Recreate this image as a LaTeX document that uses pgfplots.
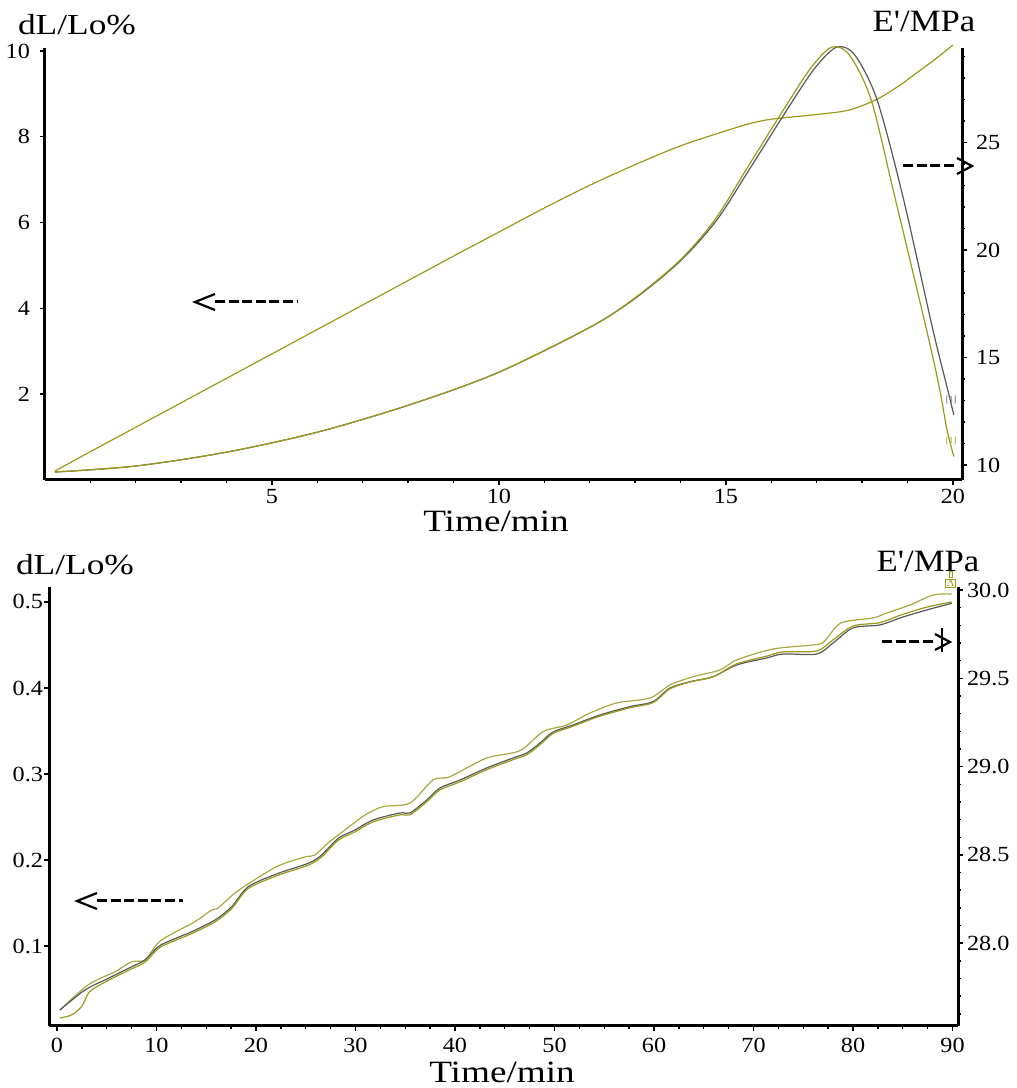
\documentclass[border=0pt]{standalone}
\usepackage{pgfplots}
\pgfplotsset{compat=1.18}
\usepackage{fontspec}
\setmainfont{Liberation Serif}
\newfontfamily\tickfont[FakeStretch=1.12]{Liberation Serif}
\newfontfamily\dlfont[FakeStretch=1.22]{Liberation Serif}
\newfontfamily\efont[FakeStretch=1.12]{Liberation Serif}
\newfontfamily\tfont[FakeStretch=1.2]{Liberation Serif}
\definecolor{olv}{HTML}{9A9A18}
\definecolor{olvl}{HTML}{A8A840}
\definecolor{gry}{HTML}{585858}

\pgfplotstableread{
x y
0.22 0.21
1 0.66
2 1.23
3 1.80
4 2.37
5 2.94
6 3.51
7 4.08
8 4.65
9 5.22
10 5.78
11 6.34
12 6.87
13 7.35
14 7.79
15 8.14
15.5 8.30
16 8.41
17 8.52
17.7 8.62
18.3 8.86
18.8 9.18
19.2 9.49
19.6 9.80
20.0 10.14
}\topline

\pgfplotstableread{
x y
0.22 9.67
2.00 9.95
4.01 10.60
6.01 11.53
8.02 12.79
9.96 14.28
12.00 16.40
13.00 17.75
14.00 19.50
14.80 21.40
15.53 23.80
16.41 26.74
16.96 28.47
17.44 29.44
17.84 29.07
18.33 26.98
18.90 22.47
19.56 16.28
19.87 13.63
20.02 12.33
}\bellgrey

\pgfplotstableread{
x y
0.22 9.67
2.00 9.95
4.01 10.60
6.01 11.53
8.02 12.79
9.96 14.28
12.00 16.40
13.00 17.78
14.00 19.55
14.77 21.45
15.48 23.86
16.35 26.80
16.88 28.50
17.33 29.44
17.72 29.07
18.20 26.98
18.72 22.47
19.42 16.28
19.70 13.60
19.87 11.63
20.02 10.39
}\bellolv

\pgfplotstableread{
x y
0.3 0.0256
2.81 0.0488
5.16 0.0624
7.51 0.0759
8.84 0.0837
10.18 0.0992
11.53 0.1070
13.54 0.1166
15.88 0.1302
17.56 0.1457
19.23 0.1690
22.24 0.1845
25.26 0.1962
26.60 0.2058
28.27 0.2252
29.95 0.2349
31.76 0.2465
34.47 0.2547
35.48 0.2547
37.16 0.2698
38.49 0.2837
40.50 0.2930
43.19 0.3070
45.83 0.3186
47.21 0.3244
48.54 0.3360
49.85 0.3488
51.86 0.3570
54.57 0.3686
57.59 0.3783
59.90 0.3841
61.61 0.4000
63.62 0.4073
65.93 0.4131
68.31 0.4267
71.33 0.4349
72.96 0.4395
76.35 0.4395
77.99 0.4523
80.00 0.4698
82.71 0.4733
84.72 0.4814
87.41 0.4907
89.92 0.4985
}\botgrey

\pgfplotstableread{
x y
0.3 0.0163
1.5 0.0200
2.5 0.0300
3.3 0.0470
5.16 0.0600
7.51 0.0735
8.84 0.0812
10.18 0.0970
11.53 0.1048
13.54 0.1144
15.88 0.1280
17.56 0.1435
19.23 0.1668
22.24 0.1823
25.26 0.1940
26.60 0.2036
28.27 0.2230
29.95 0.2327
31.76 0.2443
34.47 0.2525
35.48 0.2525
37.16 0.2676
38.49 0.2815
40.50 0.2908
43.19 0.3050
45.83 0.3166
47.21 0.3224
48.54 0.3340
49.85 0.3470
51.86 0.3555
54.57 0.3672
57.59 0.3770
59.90 0.3830
61.61 0.3990
63.62 0.4070
65.93 0.4130
68.31 0.4280
71.33 0.4370
72.96 0.4420
76.35 0.4430
77.99 0.4560
80.00 0.4720
82.71 0.4760
84.72 0.4845
87.41 0.4940
89.92 0.5000
}\botlow

\pgfplotstableread{
x y
0.3 0.0256
3.12 0.0547
5.83 0.0701
7.51 0.0817
8.84 0.0837
10.15 0.1035
11.53 0.1140
13.87 0.1283
15.55 0.1419
16.18 0.1442
17.89 0.1616
19.57 0.1748
22.21 0.1931
24.92 0.2035
25.93 0.2058
27.24 0.2198
28.94 0.2349
30.95 0.2523
32.76 0.2620
35.48 0.2663
37.79 0.2930
39.50 0.2969
43.19 0.3186
46.53 0.3271
48.84 0.3492
51.23 0.3570
53.57 0.3709
56.25 0.3826
59.60 0.3884
61.61 0.4035
63.92 0.4131
66.63 0.4209
68.31 0.4326
71.96 0.4453
75.98 0.4500
77.09 0.4538
78.79 0.4756
82.01 0.4814
83.39 0.4872
85.73 0.4965
88.04 0.5081
89.92 0.5093
}\botup

\pgfplotsset{
  myaxis/.style={
    scale only axis, clip=false,
    axis line style={line width=1.5pt, black},
    tick style={black, line width=0.7pt},
    major tick length=2.5pt, minor tick length=1.6pt,
    tick align=outside,
    ticklabel style={font=\tickfont\fontsize{10.8}{12}\selectfont},
    /pgf/number format/assume math mode=true,
  }
}

\begin{document}
\begin{tikzpicture}
\useasboundingbox (0,0) rectangle (508.5pt,544pt);

% ---------- top panel ----------
\begin{axis}[myaxis, at={(22.5pt,304pt)}, anchor=south west,
  width=458.5pt, height=216pt,
  xmin=0, xmax=20.2, ymin=0, ymax=10.07,
  axis x line*=bottom, axis y line*=left,
  xtick={5,10,15,20}, minor xtick={1,2,...,19},
  ytick={2,4,6,8,10},
  xticklabel style={yshift=1.5pt},
  yticklabel style={xshift=-1.5pt},
]
\addplot[olv, line width=0.6pt, smooth] table {\topline};
\end{axis}
\begin{axis}[myaxis, at={(22.5pt,304pt)}, anchor=south west,
  width=458.5pt, height=216pt,
  xmin=0, xmax=20.2, ymin=9.3, ymax=29.4,
  axis x line=none, axis y line*=right,
  ytick={10,15,20,25}, minor ytick={10,11,...,29},
  yticklabel style={xshift=1pt},
]
\addplot[gry, line width=0.6pt, smooth] table {\bellgrey};
\addplot[olv, line width=0.6pt, smooth] table {\bellolv};
\node[gry, font=\fontsize{4.5}{5}\selectfont, inner sep=0pt] at (axis cs:19.96,13.0) {[1]};
\node[olv, font=\fontsize{4.5}{5}\selectfont, inner sep=0pt] at (axis cs:19.96,11.1) {[1]};
\end{axis}

% ---------- bottom panel ----------
\begin{axis}[myaxis, at={(24.5pt,31pt)}, anchor=south west,
  width=454.5pt, height=219.5pt,
  xmin=-0.8, xmax=90.55, ymin=0.007, ymax=0.5174,
  axis x line*=bottom, axis y line*=left,
  xtick={0,10,...,90}, minor xtick={2.5,5,...,90},
  ytick={0.1,0.2,0.3,0.4,0.5},
  yticklabel style={xshift=3pt, /pgf/number format/.cd, fixed, precision=1, fixed zerofill},
]
\addplot[olvl, line width=0.6pt, smooth] table {\botup};
\addplot[gry, line width=0.6pt, smooth] table {\botgrey};
\addplot[olv, line width=0.6pt, smooth] table {\botlow};
\end{axis}
\begin{axis}[myaxis, at={(24.5pt,31pt)}, anchor=south west,
  width=454.5pt, height=219.5pt,
  xmin=-0.8, xmax=90.55, ymin=27.531, ymax=30.017,
  axis x line=none, axis y line*=right,
  ytick={28,28.5,29,29.5,30}, minor ytick={27.6,27.7,...,30.0},
  yticklabel style={xshift=-1.5pt, /pgf/number format/.cd, fixed, precision=1, fixed zerofill},
]
\node[olv, draw=olv, line width=0.3pt, font=\fontsize{3.6}{4}\selectfont, inner sep=0.3pt, anchor=south] at (axis cs:89.8,30.072) {/};
\node[olv, draw=olv, line width=0.3pt, font=\fontsize{3.6}{4}\selectfont, inner sep=0.3pt, anchor=north] at (axis cs:89.8,30.065) {$\Lambda$};
\end{axis}

% ---------- axis titles ----------
\node[anchor=base, inner sep=0pt, font=\dlfont\fontsize{14.5}{16}\selectfont] at (38.5pt,526.5pt) {dL/Lo\%};
\node[anchor=base, inner sep=0pt, font=\efont\fontsize{15.5}{18}\selectfont] at (462pt,528pt) {E'/MPa};
\node[anchor=base, inner sep=0pt, font=\tfont\fontsize{15.5}{18}\selectfont] at (248pt,278pt) {Time/min};
\node[anchor=base, inner sep=0pt, font=\dlfont\fontsize{14.5}{16}\selectfont] at (37.5pt,256.5pt) {dL/Lo\%};
\node[anchor=base, inner sep=0pt, font=\efont\fontsize{15.5}{18}\selectfont] at (464pt,258pt) {E'/MPa};
\node[anchor=base, inner sep=0pt, font=\tfont\fontsize{15.5}{18}\selectfont] at (251pt,2.5pt) {Time/min};

% ---------- arrows (annotations) ----------
\draw[line width=1.5pt, dash pattern=on 5pt off 1.8pt] (107.5pt,393pt) -- (149pt,393pt);
\draw[line width=1.1pt] (107.5pt,397pt) -- (97.5pt,393pt) -- (107.5pt,389pt);
\draw[line width=1.5pt, dash pattern=on 5pt off 1.8pt] (451.5pt,461pt) -- (478pt,461pt);
\draw[line width=1.1pt] (478.5pt,465pt) -- (486pt,461pt) -- (478.5pt,457pt);
\draw[line width=1.5pt, dash pattern=on 5pt off 1.8pt] (48.5pt,93.5pt) -- (91.5pt,93.5pt);
\draw[line width=1.1pt] (48.5pt,97.5pt) -- (38.5pt,93.5pt) -- (48.5pt,89.5pt);
\draw[line width=1.5pt, dash pattern=on 5pt off 1.8pt] (441pt,223pt) -- (468pt,223pt);
\draw[line width=1.1pt] (467.5pt,227pt) -- (475pt,223pt) -- (467.5pt,219pt);
\draw[line width=1pt] (471pt,230pt) -- (471pt,218pt);
\end{tikzpicture}
\end{document}
